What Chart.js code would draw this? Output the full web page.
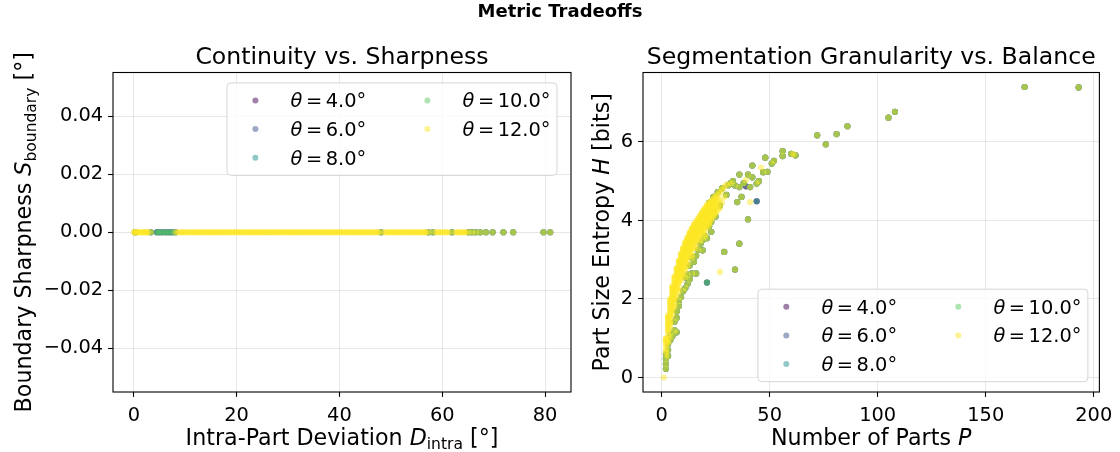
<!DOCTYPE html>
<html lang="en">
<head>
<meta charset="UTF-8" />
<title>Metric Tradeoffs</title>
<script src="https://cdn.jsdelivr.net/npm/chart.js"></script>
<style>
  body { margin: 0; background: #fff; }
  #wrap { position: relative; width: 1120px; height: 452px; overflow: hidden; }
  #suptitle {
    position: absolute; left: 0; top: 0; width: 1120px; text-align: center;
    font: bold 18px 'DejaVu Sans', sans-serif; line-height: 22px; color: #000;
  }
  canvas { position: absolute; top: 0; }
  #leftChart { left: 0; }
  #rightChart { left: 590px; }
</style>
</head>
<body>
<div id="wrap">
  <canvas id="leftChart" width="590" height="452"></canvas>
  <canvas id="rightChart" width="530" height="452"></canvas>
  <div id="suptitle">Metric Tradeoffs</div>
</div>
<script>
const FONT = "'DejaVu Sans', sans-serif";

// thresholds and their viridis colours
const thetas = [4, 6, 8, 10, 12];
const thetaColors = ['rgba(68,1,84,0.5)', 'rgba(59,82,139,0.5)', 'rgba(33,145,140,0.5)', 'rgba(94,201,98,0.5)', 'rgba(253,231,37,0.5)'];

// left panel: intra-part deviation (sharpness is 0 everywhere)
const sharedDev = [0.3, 3.3, 8.1, 48.1, 57.3, 58.2, 61.9, 65.1, 65.8, 66.5, 67.4, 68.5, 69.8, 71.9, 73.8, 79.7, 81.0];
const lowThetaDev = [4.5, 5.0, 5.6, 6.3, 6.9, 7.5];
const t12Dev = [0.0, 0.4, 0.8, 1.3, 1.7, 2.1, 2.4, 2.7,
  8.6, 9.2, 9.7, 10.3, 10.9, 11.5, 12.0, 12.6, 13.1, 13.7, 14.3, 14.8, 15.4, 15.9, 16.5, 17.0, 17.6, 18.2,
  18.7, 19.3, 19.8, 20.4, 20.9, 21.5, 22.1, 22.6, 23.2, 23.7, 24.3, 24.8, 25.4, 26.0, 26.5, 27.1, 27.6,
  28.2, 28.7, 29.3, 29.9, 30.4, 31.0, 31.5, 32.1, 32.6, 33.2, 33.8, 34.3, 34.9, 35.4, 36.0, 36.5, 37.1,
  37.7, 38.2, 38.8, 39.3, 39.9, 40.4, 41.0, 41.5, 42.1, 42.7, 43.2, 43.8, 44.3, 44.9, 45.4, 46.0, 46.6,
  47.1, 47.6, 48.8, 49.3, 49.9, 50.4, 51.0, 51.5, 52.1, 52.7, 53.2, 53.8, 54.3, 54.9, 55.4, 56.0, 56.5,
  56.9, 58.8, 59.4, 60.0, 60.6, 61.2, 62.6, 63.1, 63.7, 64.2, 64.6];
const t12DevMore = [0.2, 0.6, 1.0, 1.5, 1.9, 2.3, 2.6,
  8.9, 9.5, 10.0, 10.6, 11.2, 11.8, 12.3, 12.9, 13.4, 14.0, 14.6, 15.1, 15.7, 16.2, 16.8, 17.3, 17.9, 18.5,
  19.0, 19.6, 20.1, 20.7, 21.2, 21.8, 22.4, 22.9, 23.5, 24.0, 24.6, 25.1, 25.7, 26.3, 26.8, 27.4, 27.9,
  28.5, 29.0, 29.6, 30.2, 30.7, 31.3, 31.8, 32.4, 32.9, 33.5, 34.1, 34.6, 35.2, 35.7, 36.3, 36.8, 37.4,
  38.0, 38.5, 39.1, 39.6, 40.2, 40.7, 41.3, 41.8, 42.4, 43.0, 43.5, 44.1, 44.6, 45.2, 45.7, 46.3, 46.9,
  47.4, 49.1, 49.6, 50.2, 50.7, 51.3, 51.8, 52.4, 53.0, 53.5, 54.1, 54.6, 55.2, 55.7, 56.3, 56.7, 59.1,
  59.7, 60.3, 60.9, 62.9, 63.4, 63.9, 64.4];
const devTicks = [0, 20, 40, 60, 80];
const sharpTicks = [-0.04, -0.02, 0, 0.02, 0.04];

// right panel: [number of parts P, entropy H]
const sharedPoints = [
  [2, 0.22], [2, 0.35], [2, 0.48], [2, 0.6], [3, 0.55], [3, 0.7], [3, 0.85], [4, 0.95], [4, 1.1], [5, 1.05],
  [6, 1.2], [7, 1.15], [6, 1.42], [7, 1.52], [7, 1.68], [8, 1.82], [8, 1.95], [9, 2.05], [10, 2.2], [11, 2.28],
  [12, 2.38], [11, 2.55], [12, 2.62], [14, 2.65], [16, 2.65], [13, 2.5], [13, 2.85], [15, 2.95], [14, 3.05],
  [16, 3.1], [17, 3.25], [19, 3.24], [18, 3.4], [19, 3.5], [20, 3.6], [21, 3.55], [23, 3.71], [22, 3.85],
  [23, 3.96], [25, 4.1], [29, 3.2], [34, 2.75], [36, 3.41], [40, 4.03], [35, 4.47], [34, 4.89], [36, 4.85],
  [38, 4.95], [44, 4.94], [36, 5.17], [40, 5.17], [42, 5.1], [42, 5.4], [47, 5.23], [49, 5.24], [48, 5.6],
  [51, 5.45], [52, 5.52], [56, 5.64], [56, 5.77], [60, 5.7], [62, 5.66], [72, 6.17], [76, 5.94], [81, 6.2],
  [86, 6.4], [105, 6.62], [108, 6.77], [168, 7.4], [193, 7.39], [24, 4.6], [26, 4.72], [28, 4.82], [31, 4.9],
  [33, 5.0], [30, 4.65], [27, 4.38], [24, 4.28], [21, 4.2], [19, 4.05], [17, 3.85], [22, 4.45], [32, 4.95],
  [41, 4.85], [37, 4.6], [45, 5.0]
];
const t4Points = [[39, 4.87], [44, 4.49], [21, 2.42]];
const t6Points = [[39, 4.87], [44, 4.49], [21, 2.42]];
const t8Points = [[44, 4.49], [21, 2.42]];
const t10Points = [[21, 2.42]];
const t12Points = [
  [1, 0],
  [2, 0.72], [2, 0.86], [2, 0.95], [2, 1.0],
  [3, 0.98], [3, 1.15], [3, 1.28], [3, 1.4], [3, 1.5], [3, 1.58],
  [4, 1.35], [4, 1.52], [4, 1.66], [4, 1.78], [4, 1.9], [4, 2.0],
  [5, 1.7], [5, 1.88], [5, 2.02], [5, 2.14], [5, 2.24], [5, 2.32],
  [6, 1.98], [6, 2.12], [6, 2.26], [6, 2.38], [6, 2.48], [6, 2.57],
  [7, 2.22], [7, 2.37], [7, 2.5], [7, 2.61], [7, 2.71], [7, 2.79],
  [8, 2.42], [8, 2.57], [8, 2.69], [8, 2.8], [8, 2.9], [8, 2.98],
  [9, 2.6], [9, 2.75], [9, 2.87], [9, 2.98], [9, 3.08], [9, 3.16],
  [10, 2.78], [10, 2.92], [10, 3.04], [10, 3.14], [10, 3.23], [10, 3.31],
  [11, 2.93], [11, 3.07], [11, 3.19], [11, 3.29], [11, 3.38], [11, 3.45], [11, 2.72],
  [12, 3.07], [12, 3.2], [12, 3.32], [12, 3.42], [12, 3.5], [12, 3.57],
  [13, 3.2], [13, 3.33], [13, 3.44], [13, 3.54], [13, 3.62], [13, 3.69],
  [14, 3.3], [14, 3.43], [14, 3.55], [14, 3.65], [14, 3.73], [14, 3.8],
  [15, 3.4], [15, 3.53], [15, 3.64], [15, 3.74], [15, 3.83], [15, 3.9],
  [16, 3.5], [16, 3.63], [16, 3.75], [16, 3.86], [16, 3.96],
  [17, 3.6], [17, 3.73], [17, 3.85], [17, 3.95], [17, 4.04],
  [18, 3.68], [18, 3.82], [18, 3.94], [18, 4.04], [18, 4.13],
  [19, 3.76], [19, 3.9], [19, 4.02], [19, 4.13], [19, 4.22],
  [20, 3.84], [20, 3.98], [20, 4.1], [20, 4.21], [20, 4.3],
  [21, 3.9], [21, 4.05], [21, 4.18], [21, 4.29], [21, 4.38],
  [22, 3.96], [22, 4.12], [22, 4.26], [22, 4.38], [22, 4.45],
  [23, 4.02], [23, 4.2], [23, 4.34], [23, 4.5],
  [24, 4.1], [24, 4.28], [24, 4.44], [24, 4.56],
  [25, 4.18], [25, 4.36], [25, 4.5], [25, 4.62],
  [26, 4.26], [26, 4.45], [26, 4.66],
  [27, 4.32], [27, 4.52], [27, 4.72], [27, 2.69],
  [28, 4.45], [28, 4.78], [29, 4.6], [29, 4.85],
  [30, 4.92], [39, 5.03], [41, 4.47], [46, 5.35], [61, 5.69]
];
const t12PointsMore = [
  [2, 0.65], [2, 0.8], [2, 0.91], [2, 0.98],
  [3, 0.9], [3, 1.06], [3, 1.22], [3, 1.34], [3, 1.45], [3, 1.54],
  [4, 1.25], [4, 1.44], [4, 1.59], [4, 1.72], [4, 1.84], [4, 1.95],
  [5, 1.6], [5, 1.79], [5, 1.95], [5, 2.08], [5, 2.19], [5, 2.28],
  [6, 1.88], [6, 2.05], [6, 2.19], [6, 2.32], [6, 2.43], [6, 2.53],
  [7, 2.1], [7, 2.3], [7, 2.44], [7, 2.56], [7, 2.66], [7, 2.75],
  [8, 2.3], [8, 2.5], [8, 2.63], [8, 2.75], [8, 2.85], [8, 2.94],
  [9, 2.48], [9, 2.68], [9, 2.81], [9, 2.93], [9, 3.03], [9, 3.12],
  [10, 2.65], [10, 2.85], [10, 2.98], [10, 3.09], [10, 3.19], [10, 3.27],
  [11, 2.8], [11, 3.0], [11, 3.13], [11, 3.24], [11, 3.34], [11, 3.42],
  [12, 2.95], [12, 3.13], [12, 3.26], [12, 3.37], [12, 3.46], [12, 3.54],
  [13, 3.08], [13, 3.27], [13, 3.39], [13, 3.49], [13, 3.58], [13, 3.66],
  [14, 3.2], [14, 3.37], [14, 3.5], [14, 3.6], [14, 3.69], [14, 3.77],
  [15, 3.3], [15, 3.47], [15, 3.59], [15, 3.69], [15, 3.79], [15, 3.87],
  [16, 3.42], [16, 3.57], [16, 3.69], [16, 3.81], [16, 3.91],
  [17, 3.52], [17, 3.67], [17, 3.79], [17, 3.9], [17, 4.0],
  [18, 3.6], [18, 3.75], [18, 3.88], [18, 3.99], [18, 4.09],
  [19, 3.68], [19, 3.83], [19, 3.96], [19, 4.08], [19, 4.18],
  [20, 3.76], [20, 3.91], [20, 4.04], [20, 4.16], [20, 4.26],
  [21, 3.82], [21, 3.98], [21, 4.12], [21, 4.24], [21, 4.34],
  [22, 3.9], [22, 4.04], [22, 4.19], [22, 4.32], [22, 4.42],
  [23, 4.11], [23, 4.27], [23, 4.42], [24, 4.19], [24, 4.36], [24, 4.5],
  [25, 4.27], [25, 4.43], [25, 4.56], [26, 4.35], [26, 4.56]
];
const t12PointsDense = [
  [3, 1.2], [3, 1.36], [3, 1.52],
  [4, 1.4], [4, 1.56], [4, 1.7], [4, 1.86], [4, 1.97],
  [5, 1.75], [5, 1.92], [5, 2.05], [5, 2.17], [5, 2.3],
  [6, 1.8], [6, 2.0], [6, 2.15], [6, 2.29], [6, 2.41], [6, 2.55],
  [7, 2.25], [7, 2.41], [7, 2.53], [7, 2.64], [7, 2.77],
  [8, 2.2], [8, 2.45], [8, 2.6], [8, 2.72], [8, 2.83], [8, 2.96],
  [9, 2.63], [9, 2.78], [9, 2.9], [9, 3.0], [9, 3.14],
  [10, 2.55], [10, 2.8], [10, 2.95], [10, 3.07], [10, 3.17], [10, 3.29],
  [11, 2.96], [11, 3.1], [11, 3.22], [11, 3.31], [11, 3.44],
  [12, 2.85], [12, 3.1], [12, 3.23], [12, 3.35], [12, 3.44], [12, 3.56],
  [13, 3.23], [13, 3.36], [13, 3.47], [13, 3.56], [13, 3.68],
  [14, 3.1], [14, 3.34], [14, 3.47], [14, 3.58], [14, 3.67], [14, 3.79],
  [15, 3.45], [15, 3.58], [15, 3.68], [15, 3.77], [15, 3.89],
  [16, 3.3], [16, 3.55], [16, 3.68], [16, 3.79], [16, 3.88], [16, 3.98],
  [17, 3.64], [17, 3.77], [17, 3.88], [17, 3.98], [17, 4.06],
  [18, 3.5], [18, 3.72], [18, 3.86], [18, 3.97], [18, 4.07], [18, 4.15],
  [19, 3.8], [19, 3.94], [19, 4.05], [19, 4.16], [19, 4.24],
  [20, 3.65], [20, 3.88], [20, 4.02], [20, 4.13], [20, 4.24], [20, 4.31],
  [21, 3.95], [21, 4.09], [21, 4.22], [21, 4.32], [21, 4.39],
  [22, 4.02], [22, 4.16], [22, 4.3], [22, 4.41],
  [23, 4.08], [23, 4.24], [23, 4.38], [23, 4.48],
  [24, 4.15], [24, 4.32], [24, 4.48], [25, 4.23], [25, 4.4], [25, 4.58]
];
const partsTicks = [0, 50, 100, 150, 200];
const entropyTicks = [0, 2, 4, 6];

const extraDev = [lowThetaDev, lowThetaDev, lowThetaDev, lowThetaDev, t12Dev.concat(t12DevMore)];
const extraPoints = [t4Points, t6Points, t8Points, t10Points, t12Points.concat(t12PointsMore, t12PointsDense)];

// text helpers (matplotlib-like mathtext: italic symbol + subscript)
function segFont(s, size) {
  const sz = s.sub ? size * 0.7 : size;
  return (s.it ? 'italic ' : '') + sz + 'px ' + FONT;
}
function drawRich(ctx, segs, cx, baseY, size) {
  let total = 0;
  segs.forEach(s => { ctx.font = segFont(s, size); total += ctx.measureText(s.t).width; });
  let x = cx - total / 2;
  ctx.textAlign = 'left';
  ctx.textBaseline = 'alphabetic';
  segs.forEach(s => {
    ctx.font = segFont(s, size);
    ctx.fillText(s.t, x, baseY + (s.sub ? size * 0.21 : 0));
    x += ctx.measureText(s.t).width;
  });
}

function drawLegend(chart, pos) {
  const ctx = chart.ctx, a = chart.chartArea;
  const w = 330, h = 92.5;
  const x = a.right - pos.right - w;
  const y = pos.top != null ? a.top + pos.top : a.bottom - pos.bottom - h;
  ctx.save();
  ctx.beginPath();
  ctx.roundRect(x, y, w, h, 4);
  ctx.fillStyle = 'rgba(255,255,255,0.8)';
  ctx.fill();
  ctx.strokeStyle = 'rgba(204,204,204,0.8)';
  ctx.lineWidth = 1;
  ctx.stroke();
  chart.data.datasets.forEach((ds, i) => {
    const col = i < 3 ? 0 : 1, row = i < 3 ? i : i - 3;
    const my = y + 17.5 + row * 28.7;
    ctx.beginPath();
    ctx.arc(x + 28.4 + col * 172, my, 3, 0, Math.PI * 2);
    ctx.fillStyle = ds.backgroundColor;
    ctx.fill();
    ctx.fillStyle = '#000';
    ctx.textAlign = 'left';
    ctx.textBaseline = 'alphabetic';
    const tx = x + 63.5 + col * 172;
    ctx.font = 'italic 19.4px ' + FONT;
    ctx.fillText('\u03b8', tx, my + 7);
    ctx.font = '19.4px ' + FONT;
    ctx.fillText('=', tx + 15.4, my + 7);
    ctx.fillText(thetas[i].toFixed(1) + '\u00b0', tx + 35.2, my + 7);
  });
  ctx.restore();
}

const panelDecor = {
  id: 'panelDecor',
  afterDraw(chart, args, opts) {
    const ctx = chart.ctx, a = chart.chartArea;
    ctx.save();
    ctx.strokeStyle = '#000';
    ctx.lineWidth = 1.1;
    ctx.strokeRect(a.left, a.top, a.right - a.left, a.bottom - a.top);
    ctx.fillStyle = '#000';
    ctx.textAlign = 'center';
    ctx.textBaseline = 'alphabetic';
    ctx.font = '23.6px ' + FONT;
    ctx.fillText(opts.title, (a.left + a.right) / 2, a.top - 8.3);
    drawRich(ctx, opts.xLabel, (a.left + a.right) / 2, 444.5, 22.2);
    ctx.translate(opts.yLabelX, (a.top + a.bottom) / 2);
    ctx.rotate(-Math.PI / 2);
    drawRich(ctx, opts.yLabel, 0, 0, 22.2);
    ctx.restore();
    drawLegend(chart, opts.legend);
  }
};

function axis(min, max, ticks, fmt, fit, pad) {
  return {
    type: 'linear', min: min, max: max,
    afterBuildTicks: s => { s.ticks = ticks.map(v => ({ value: v })); },
    afterFit: fit,
    ticks: { font: { family: FONT, size: 19.4 }, color: '#000', padding: pad, autoSkip: false, maxRotation: 0, callback: fmt },
    grid: { color: 'rgba(176,176,176,0.3)', lineWidth: 1, tickColor: '#000', tickLength: 4.9, tickWidth: 1.1 },
    border: { display: false },
    title: { display: false }
  };
}

function makeChart(id, datasets, scales, padRight, decor) {
  return new Chart(document.getElementById(id), {
    type: 'scatter',
    data: { datasets: datasets },
    options: {
      responsive: false,
      animation: false,
      devicePixelRatio: 1,
      events: [],
      layout: { padding: { left: 0, right: padRight, top: 72.5, bottom: 0 } },
      elements: { point: { radius: 3.1, borderWidth: 0, hoverRadius: 3.1 } },
      scales: scales,
      plugins: { legend: { display: false }, tooltip: { enabled: false }, panelDecor: decor }
    },
    plugins: [panelDecor]
  });
}

const leftSets = thetas.map((t, i) => ({
  label: '\u03b8 = ' + t.toFixed(1) + '\u00b0',
  data: sharedDev.concat(extraDev[i]).map(v => ({ x: v, y: 0 })),
  backgroundColor: thetaColors[i],
  order: thetas.length - 1 - i
}));
const rightSets = thetas.map((t, i) => ({
  label: '\u03b8 = ' + t.toFixed(1) + '\u00b0',
  data: sharedPoints.concat(extraPoints[i]).map(p => ({ x: p[0], y: p[1] })),
  backgroundColor: thetaColors[i],
  order: thetas.length - 1 - i
}));

makeChart('leftChart', leftSets, {
  x: axis(-4.05, 85.05, devTicks, v => String(v), s => { s.height = 60; }, 7.5),
  y: axis(-0.055, 0.055, sharpTicks, v => (v < 0 ? '\u2212' : '') + Math.abs(v).toFixed(2), s => { s.width = 113; }, 4.9)
}, 19, {
  title: 'Continuity vs. Sharpness',
  xLabel: [{ t: 'Intra-Part Deviation ' }, { t: 'D', it: true }, { t: 'intra', sub: true }, { t: ' [\u00b0]' }],
  yLabel: [{ t: 'Boundary Sharpness ' }, { t: 'S', it: true }, { t: 'boundary', sub: true }, { t: ' [\u00b0]' }],
  yLabelX: 31,
  legend: { right: 14, top: 10.4 }
});

makeChart('rightChart', rightSets, {
  x: axis(-8.6, 202.6, partsTicks, v => String(v), s => { s.height = 60; }, 7.5),
  y: axis(-0.37, 7.77, entropyTicks, v => String(v), s => { s.width = 53; }, 4.9)
}, 18.3, {
  title: 'Segmentation Granularity vs. Balance',
  xLabel: [{ t: 'Number of Parts ' }, { t: 'P', it: true }],
  yLabel: [{ t: 'Part Size Entropy ' }, { t: 'H', it: true }, { t: ' [bits]' }],
  yLabelX: 19,
  legend: { right: 11.5, bottom: 10.3 }
});
</script>
</body>
</html>
